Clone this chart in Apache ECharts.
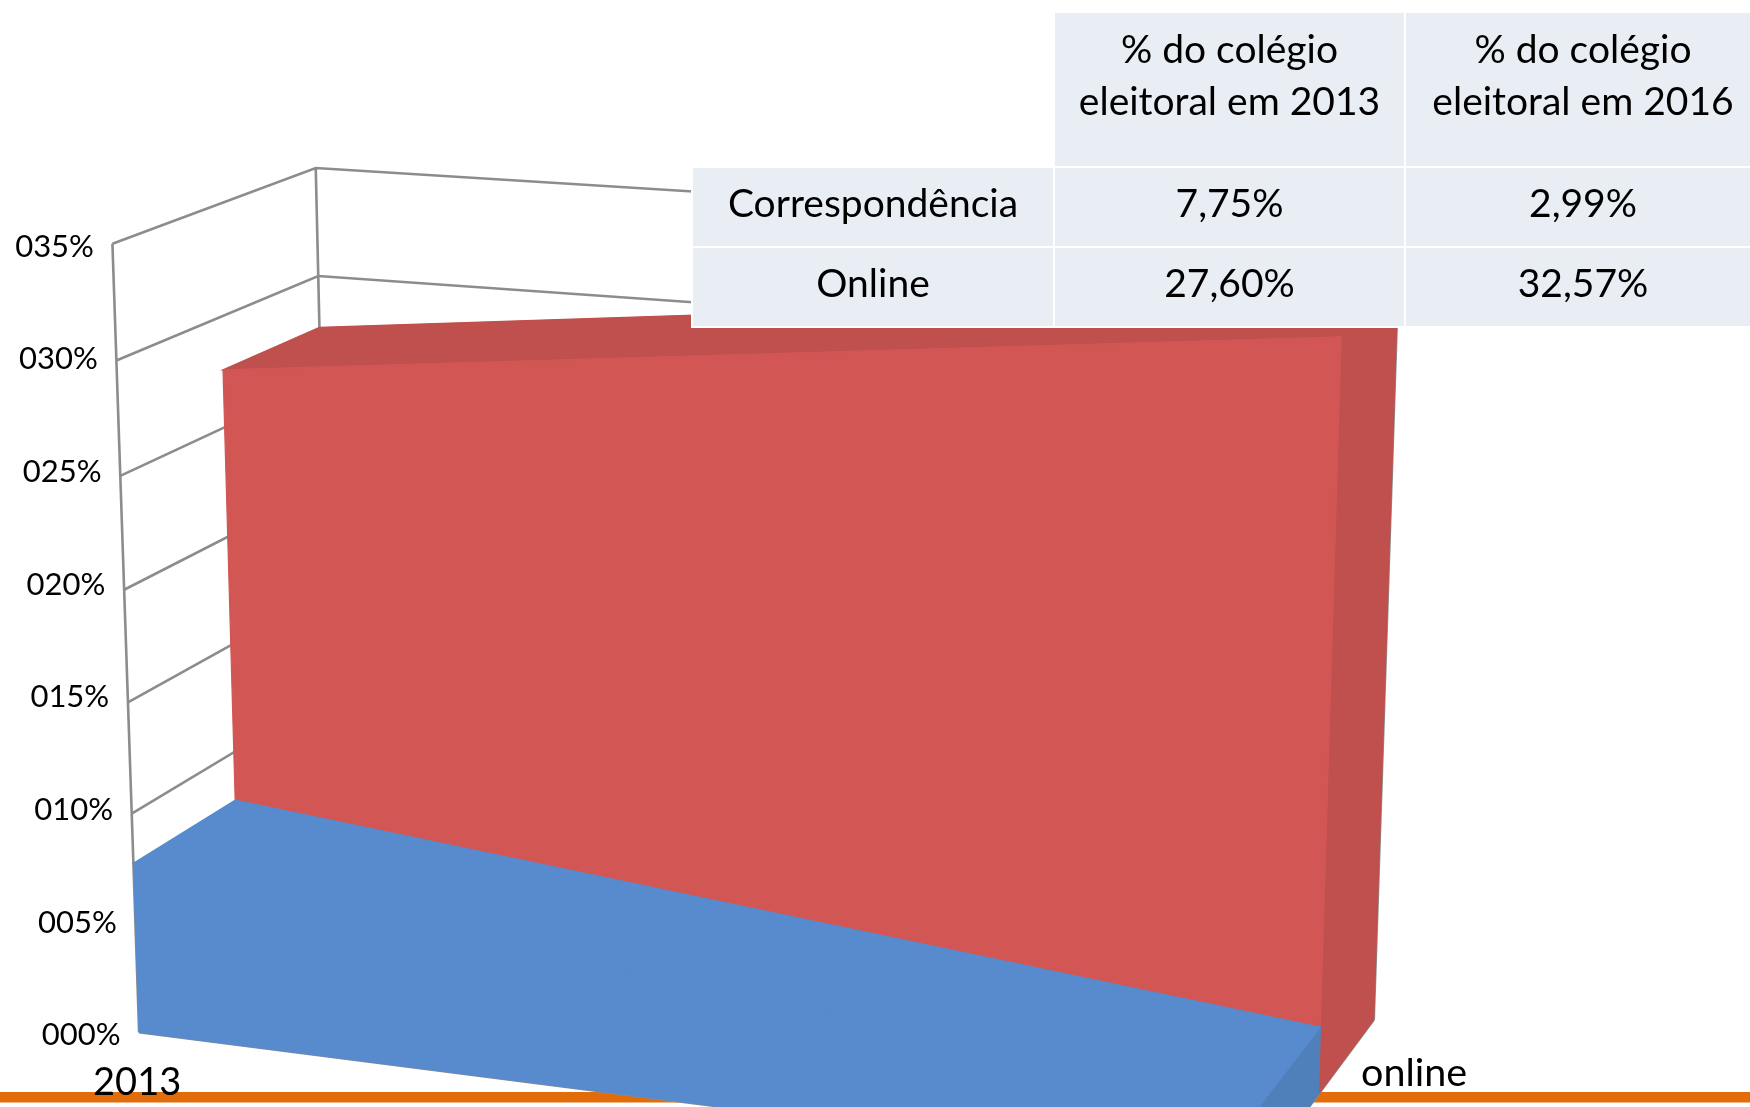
<!DOCTYPE html>
<html><head><meta charset="utf-8">
<style>html,body{margin:0;padding:0;background:#fff}#c{width:1750px;height:1107px}</style>
<script src="https://cdn.jsdelivr.net/npm/echarts@6/dist/echarts.min.js"></script>
</head><body><div id="c"></div>
<script>
// ---- data ----
const categories = ['2013', '2016'];
const correspondencia = [7.75, 2.99];
const online = [27.60, 32.57];
const yTicks = [0, 5, 10, 15, 20, 25, 30, 35];
const yTickLabels = ['000%', '005%', '010%', '015%', '020%', '025%', '030%', '035%'];
const depthLabel = 'online';
const tableHead = ['% do colégio\neleitoral em 2013', '% do colégio\neleitoral em 2016'];
const tableRows = ['Correspondência', 'Online'];
const tableCol2013 = ['7,75%', '27,60%'];
const tableCol2016 = ['2,99%', '32,57%'];

const Y_MAX = 35, FONT = 'Lato';
const ZMID = 0.5;

// ---- perspective camera, fitted to the reference's box corners ----
const calib = [
  [0,35,0,111.5,243],[0,30,0,117,360],[0,25,0,121,476],[0,10,0,133,813],[0,0,0,138,1033],
  [0,35,1,315,168],[0,30,1,319,276],[0,27.6,1,319,328],
  [1,0,1,1374,1019],[1,32.57,1,1398,291],
  [1,32.57,ZMID,1341,338],[1,2.99,ZMID,1320,1028],
  [0,27.6,ZMID,223,370.5],[0,7.75,ZMID,235.5,800],[0,7.75,0,133,863]
];
function solve(A, b) {
  const n = b.length, M = A.map((r, i) => r.concat(b[i]));
  for (let i = 0; i < n; i++) {
    let p = i;
    for (let k = i + 1; k < n; k++) if (Math.abs(M[k][i]) > Math.abs(M[p][i])) p = k;
    [M[i], M[p]] = [M[p], M[i]];
    for (let k = i + 1; k < n; k++) {
      const f = M[k][i] / M[i][i];
      for (let j = i; j <= n; j++) M[k][j] -= f * M[i][j];
    }
  }
  const x = new Array(n).fill(0);
  for (let i = n - 1; i >= 0; i--) {
    let s = M[i][n];
    for (let j = i + 1; j < n; j++) s -= M[i][j] * x[j];
    x[i] = s / M[i][i];
  }
  return x;
}
const cam = (function () {
  const rows = [], rhs = [];
  calib.forEach(([u, val, z, px, py]) => {
    const v = val / Y_MAX, X = px / 1000, Y = py / 1000;
    rows.push([u, v, z, 1, 0, 0, 0, 0, -X * u, -X * v, -X * z]); rhs.push(X);
    rows.push([0, 0, 0, 0, u, v, z, 1, -Y * u, -Y * v, -Y * z]); rhs.push(Y);
  });
  const N = 11, A = [], b = [];
  for (let i = 0; i < N; i++) {
    A.push(new Array(N).fill(0)); b.push(0);
    rows.forEach((r, k) => {
      for (let j = 0; j < N; j++) A[i][j] += r[i] * r[j];
      b[i] += r[i] * rhs[k];
    });
  }
  return solve(A, b);
})();
function project(u, v, z) {
  const w = cam[8] * u + cam[9] * v + cam[10] * z + 1;
  return [1000 * (cam[0] * u + cam[1] * v + cam[2] * z + cam[3]) / w,
          1000 * (cam[4] * u + cam[5] * v + cam[6] * z + cam[7]) / w];
}
// Read a (category index, value) pair through the chart's own hidden axes, then project at depth z.
function at(params, api, catIndex, value, z) {
  const g = params.coordSys, c = api.coord([catIndex, value]);
  return project((c[0] - g.x) / g.width, (g.y + g.height - c[1]) / g.height, z);
}

const GRID = '#8c8c8c', GW = 2.6;
function line(pts) {
  return { type: 'polyline', shape: { points: pts }, style: { fill: null, stroke: GRID, lineWidth: GW, lineJoin: 'miter' } };
}
function poly(pts, fill) {
  return { type: 'polygon', shape: { points: pts }, style: { fill: fill, stroke: fill, lineWidth: 1.2 } };
}
function renderFrame(params, api) {
  const i = params.dataIndex, val = yTicks[i], P = (c, v, z) => at(params, api, c, v, z);
  const kids = [];
  if (i === 0) {
    kids.push(line([P(0, 0, 0), P(0, Y_MAX, 0)]));
    kids.push(line([P(0, 0, 1), P(0, Y_MAX, 1)]));
    kids.push(line([P(1, 0, 1), P(1, Y_MAX, 1)]));
    kids.push(line([P(0, 0, 0), P(1, 0, 0), P(1, 0, 1)]));
  } else {
    kids.push(line([P(0, val, 0), P(0, val, 1), P(1, val, 1)]));
  }
  // tick labels sit at even steps between the axis ends, as in the reference
  const a0 = P(0, 0, 0), a1 = P(0, Y_MAX, 0), t = val / Y_MAX;
  const lx = a0[0] + (a1[0] - a0[0]) * t, ly = a0[1] + (a1[1] - a0[1]) * t;
  kids.push({ type: 'text', style: { x: lx - 18.5, y: ly + 3, text: yTickLabels[i], align: 'right', verticalAlign: 'middle', font: '31px ' + FONT, fill: '#000' } });
  if (i === 0) {
    kids.push({ type: 'text', style: { x: a0[0] - 2, y: a0[1] + 69, text: categories[0], align: 'center', verticalAlign: 'bottom', font: '38px ' + FONT, fill: '#000' } });
  }
  return { type: 'group', children: kids };
}
function ribbon(values, z0, z1, front, top, side) {
  return function (params, api) {
    if (params.dataIndex !== 0) return null;
    const P = (c, v, z) => at(params, api, c, v, z);
    return { type: 'group', children: [
      poly([P(1, 0, z0), P(1, 0, z1), P(1, values[1], z1), P(1, values[1], z0)], side),
      poly([P(0, values[0], z0), P(1, values[1], z0), P(1, values[1], z1), P(0, values[0], z1)], top),
      poly([P(0, 0, z0), P(1, 0, z0), P(1, values[1], z0), P(0, values[0], z0)], front)
    ] };
  };
}

// ---- table overlay ----
const CELL = '#e9edf4', TZ = 50;
const colX = [[693, 1053], [1055, 1404], [1406, 1760]];
const rowY = [[13, 166], [168, 246], [248, 326]];
const tableEls = [
  { type: 'rect', z: TZ, shape: { x: 691, y: 166, width: 1059, height: 162 }, style: { fill: '#fff' } },
  { type: 'rect', z: TZ, shape: { x: 1053, y: 11, width: 697, height: 160 }, style: { fill: '#fff' } }
];
function cell(col, row, text, cy) {
  const [x0, x1] = colX[col], [y0, y1] = rowY[row];
  tableEls.push({ type: 'rect', z: TZ + 1, shape: { x: x0, y: y0, width: x1 - x0, height: y1 - y0 }, style: { fill: CELL } });
  tableEls.push({ type: 'text', z: TZ + 2, style: { x: (x0 + x1) / 2, y: cy, text: text, align: 'center', verticalAlign: 'middle', font: '39px ' + FONT, lineHeight: 52, fill: '#000' } });
}
tableHead.forEach((t, i) => cell(i + 1, 0, t, 76));
tableRows.forEach((t, r) => {
  const cy = r === 0 ? 204.5 : 284;
  cell(0, r + 1, t, cy);
  cell(1, r + 1, tableCol2013[r], cy);
  cell(2, r + 1, tableCol2016[r], cy);
});

const chart = echarts.init(document.getElementById('c'), null, { renderer: 'canvas' });
chart.setOption({
  animation: false,
  backgroundColor: '#fff',
  grid: { left: 100, right: 100, top: 100, bottom: 100 },
  xAxis: { type: 'category', data: categories, boundaryGap: false, show: false },
  yAxis: { type: 'value', min: 0, max: Y_MAX, interval: 5, show: false },
  graphic: { elements: [
    { type: 'rect', z: 0, shape: { x: 0, y: 1092, width: 1750, height: 10.5 }, style: { fill: '#e36c0a' } },
    { type: 'text', z: 10, style: { x: 1361, y: 1093, text: depthLabel, align: 'left', verticalAlign: 'bottom', font: '39.5px ' + FONT, fill: '#000' } }
  ].concat(tableEls) },
  series: [
    { type: 'custom', name: 'frame', z: 2, renderItem: renderFrame, data: yTicks.map((v, i) => [0, v]), encode: { x: 0, y: 1 }, silent: true },
    { type: 'custom', name: 'Online', z: 3, renderItem: ribbon(online, ZMID, 1, '#d15654', '#bf504d', '#bf504d'), data: online.map((v, i) => [i, v]), encode: { x: 0, y: 1 }, silent: true },
    { type: 'custom', name: 'Correspondência', z: 4, renderItem: ribbon(correspondencia, 0, ZMID, '#578bce', '#578bce', '#4f80ba'), data: correspondencia.map((v, i) => [i, v]), encode: { x: 0, y: 1 }, silent: true }
  ]
});
</script></body></html>
